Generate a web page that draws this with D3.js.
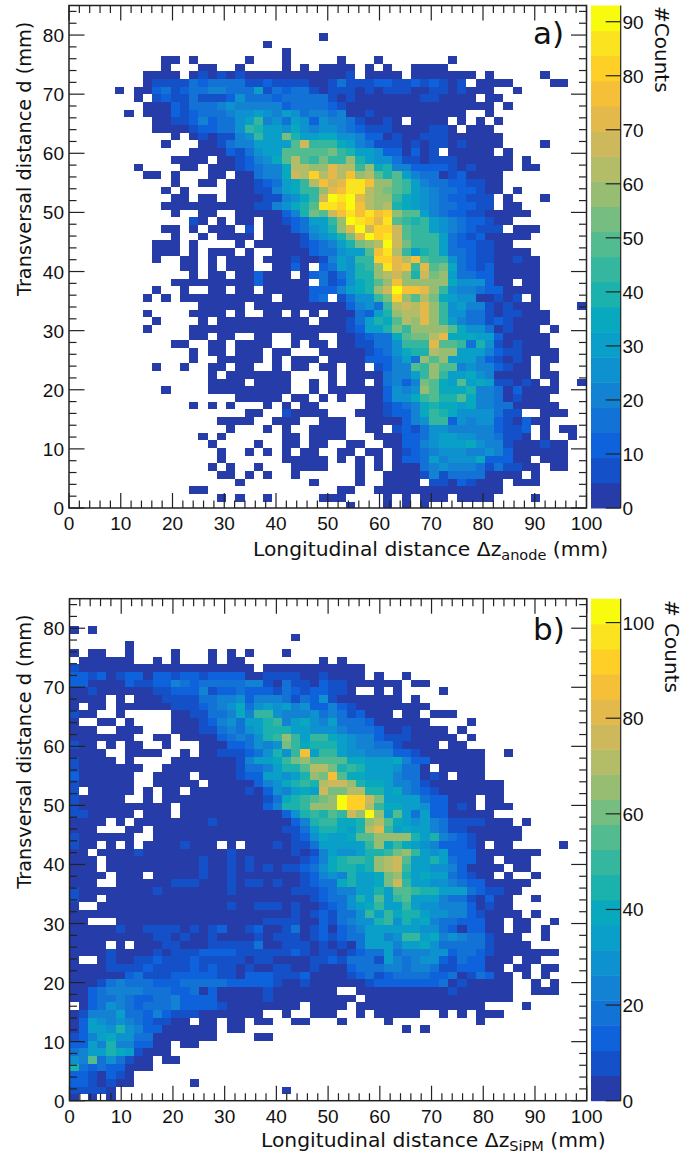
<!DOCTYPE html>
<html>
<head>
<meta charset="utf-8">
<script src="https://cdn.jsdelivr.net/npm/d3@7"></script>
<style>
  body { margin: 0; background: #fff; }
  text { fill: #111; }
</style>
</head>
<body>
<svg id="chart" width="684" height="1155"></svg>
<script>
// rows run top to bottom, firstBin says which x bin the row starts at
var firstBinA = [27,21,23,10,10,8,8,5,7,8,6,9,9,11,10,13,11,7,8,11,10,11,10,11,13,10,11,9,9,9,12,13,11,9,8,14,8,9,8,13,11,13,13,9,15,15,10,18,13,19,16,17,14,15,16,16,15,16,18,13,16,30];
var countsA = [
[3],
[3],
[3],
[3,3,0,3,0,0,0,0,0,3,0,0,0,3,0,0,0,0,0,3,0,0,0,3,0,0,0,0,0,0,0,3],
[3,0,0,0,3,3,0,0,3,0,0,0,0,3,0,3,0,3,3,3,3,0,3,0,3,0,0,3,3,3,3],
[3,3,3,3,0,3,7,3,7,3,7,3,3,3,3,3,3,3,3,3,3,3,7,0,3,3,3,3,0,3,3,3,3,3,3,3,0,3,0,0,0,0,0,3],
[3,9,9,9,9,16,12,15,16,16,15,9,9,12,8,8,8,8,3,3,8,16,8,8,8,10,12,8,8,12,8,12,8,3,8,0,3,3,3,3,0,0,0,0,3,3],
[3,0,3,3,13,17,5,11,16,18,19,19,18,14,16,28,7,17,11,16,15,8,3,7,7,7,3,7,3,7,7,7,3,3,7,7,3,7,3,3,3,0,0,3],
[3,0,7,12,7,7,14,9,6,9,13,26,14,18,18,10,16,17,16,17,14,8,3,7,3,3,3,3,3,3,3,7,7,3,3,3,3,0,3,3],
[3,3,3,12,8,14,15,14,19,27,23,19,22,22,19,13,17,18,14,16,12,9,3,3,3,3,3,3,3,3,3,3,3,3,3,3,3,3,0,3],
[3,0,3,3,3,10,7,12,18,15,17,22,26,26,30,24,22,28,24,15,20,22,16,21,3,3,8,3,3,3,3,3,3,3,3,3,3,0,0,3],
[3,3,8,8,10,21,13,16,17,25,30,44,19,26,17,30,26,12,26,21,20,15,7,3,3,8,3,0,3,3,3,3,0,3,0,3,0,3],
[3,3,3,3,9,12,13,14,18,26,44,40,30,30,25,34,26,22,26,24,20,14,10,8,8,8,3,3,3,3,9,9,3,0,3,3,3],
[3,0,3,8,3,8,8,21,26,44,30,30,55,40,31,30,33,33,27,26,21,11,10,3,8,3,3,9,9,7,3,3,3,3,3,3],
[3,0,0,0,3,3,8,16,19,20,32,30,30,30,49,66,44,42,44,33,32,21,16,8,8,8,3,5,3,8,8,3,8,3,3,3,3,0,0,0,0,3],
[3,3,3,3,10,8,16,26,30,30,50,50,47,47,50,53,44,40,32,30,26,12,12,3,12,3,8,0,3,3,3,3,3,0,3],
[3,3,3,3,0,3,3,8,12,19,26,35,50,62,50,44,54,44,44,60,38,28,26,24,16,8,8,3,8,8,8,3,3,3,3,3,3,0,3],
[3,0,0,0,0,3,3,0,3,3,3,8,10,16,21,21,34,63,63,60,58,72,64,64,44,58,35,40,21,21,12,12,12,12,8,3,8,3,3,3,3,0,3,3],
[3,3,0,3,0,0,0,3,3,0,3,3,16,20,21,34,68,63,80,64,72,63,77,58,63,49,40,49,30,21,16,16,3,8,12,3,3,3,3],
[3,0,0,3,3,0,3,3,3,8,12,16,32,36,44,63,77,68,72,85,85,75,58,58,50,44,28,21,16,16,12,12,8,8,3,3],
[3,0,3,0,0,0,0,3,3,3,8,8,21,30,33,44,44,58,70,77,87,85,63,58,54,50,44,28,26,20,16,15,12,12,8,3,3,0,3],
[3,3,0,3,3,0,3,3,3,3,8,8,21,26,35,44,66,90,85,93,72,63,60,60,44,35,32,26,22,16,12,10,8,8,8,0,3,0,0,0,3],
[3,3,3,3,3,3,3,3,3,3,8,8,21,26,35,40,50,88,85,80,92,75,62,60,62,38,34,32,24,22,16,14,12,10,8,8,0,3,3],
[3,0,0,3,3,0,0,3,3,3,3,3,12,21,40,54,50,66,76,84,77,88,78,82,58,50,48,28,20,14,12,10,8,8,3,3,3,3,3],
[8,3,0,3,0,3,3,0,3,3,8,12,16,28,30,44,58,90,84,83,74,86,50,44,40,44,30,24,21,16,12,12,8,3,3],
[3,3,0,3,0,3,3,3,0,8,0,3,3,3,12,16,26,32,40,56,70,90,66,82,82,66,50,42,44,30,26,20,16,12,8,8,8,0,3,3,3],
[3,0,0,3,0,3,3,3,3,0,3,3,3,3,9,21,26,30,38,54,72,90,80,85,68,50,44,44,44,28,14,10,9,10,3,3,3,3,3],
[3,3,3,0,3,0,0,0,0,3,0,3,3,3,3,3,8,12,16,20,28,38,54,60,64,90,66,54,44,46,42,30,18,12,10,8,5,3,3],
[3,3,3,0,3,0,3,3,3,0,3,0,0,3,3,3,3,10,16,18,24,32,28,50,75,84,62,46,32,40,42,32,18,16,12,8,5,3,3,3,3],
[3,0,0,3,3,0,3,0,3,3,3,0,3,3,3,8,3,3,8,21,30,26,44,44,80,80,72,63,76,50,44,44,26,16,10,8,5,3,3,8,3,3],
[3,3,0,3,0,3,3,3,0,0,3,3,12,3,0,12,16,28,26,40,44,58,84,74,78,42,72,48,54,34,16,12,9,10,3,3,3,3,3],
[3,0,3,3,0,3,3,12,3,3,3,0,3,12,14,5,16,26,38,38,58,63,68,58,40,68,52,58,28,16,14,10,10,3,3,3,3,3],
[3,3,3,3,3,3,3,3,3,12,3,3,3,3,3,0,16,7,12,26,35,38,50,58,78,60,58,60,60,58,34,26,26,24,12,3,3,0,3,3],
[3,0,0,3,0,0,3,3,0,3,3,0,3,3,3,3,3,10,12,12,20,30,34,40,56,68,92,76,76,70,58,44,26,22,22,16,12,12,3,3,3,3],
[3,0,3,0,3,3,3,3,3,3,3,3,3,3,0,3,3,3,12,14,0,8,16,24,26,44,54,82,58,50,62,54,34,28,26,24,3,3,8,3,8,0,3],
[3,3,3,3,3,0,3,3,3,3,3,3,3,3,3,3,12,21,26,14,44,63,66,63,70,58,44,26,30,20,20,8,3,8,3,3,3,0,0,0,0,3],
[3,0,0,0,0,3,3,3,3,0,3,0,0,3,3,0,3,0,3,0,3,3,3,16,12,30,40,60,63,62,70,60,44,24,24,14,14,8,3,8,8,3,3,3],
[3,0,0,0,0,3,0,3,3,3,3,3,3,3,3,3,3,0,3,3,3,8,14,30,38,35,50,63,60,70,58,44,30,22,18,14,8,10,8,3,3,3,3],
[3,0,0,0,0,3,3,3,3,3,3,3,3,3,3,3,3,3,3,3,3,3,8,12,30,32,40,54,44,58,58,58,58,50,35,26,26,16,3,8,3,3,3,0,3],
[3,3,0,3,3,0,0,3,3,0,0,3,3,3,0,0,3,3,8,12,14,14,34,50,54,54,63,74,36,34,34,30,28,12,3,3,3,3,3],
[3,3,0,0,3,3,0,3,3,3,3,0,0,3,0,3,3,0,3,3,8,8,16,18,26,44,42,44,72,50,50,44,16,38,26,8,3,8,3,3,3],
[3,0,3,3,0,3,3,3,0,3,3,0,0,0,3,3,3,3,3,8,12,16,26,34,40,40,64,58,58,30,28,30,20,12,8,8,3,3,3,3],
[3,0,0,3,3,3,3,3,0,3,0,3,3,3,0,3,3,3,3,12,10,12,21,30,16,58,50,58,30,30,28,20,12,8,3,8,3,0,3,3],
[3,0,0,3,0,0,3,3,0,3,3,0,0,3,0,3,3,0,3,3,0,3,3,0,8,12,21,21,50,42,58,50,50,22,24,22,22,12,8,3,3,0,3],
[3,0,3,3,3,3,3,3,3,0,0,0,0,3,0,3,3,3,3,16,21,21,30,44,58,44,28,28,34,26,21,3,3,3,3,0,3,3],
[3,3,3,3,0,3,3,3,3,0,0,3,0,3,0,3,3,0,3,16,21,12,21,54,50,35,30,50,30,35,30,8,8,3,8,3,0,3,0,0,3],
[3,0,0,0,0,3,3,3,3,3,3,3,3,3,0,0,3,0,3,3,3,3,3,3,12,24,21,26,58,50,36,36,36,40,22,22,16,3,12,3,3,3,3],
[3,3,3,3,3,0,3,3,0,3,0,3,0,0,3,3,10,26,26,36,44,50,40,40,50,36,21,21,16,3,8,3,3,3],
[3,0,3,0,3,0,0,0,3,0,3,0,3,3,0,0,0,0,0,3,3,8,12,18,21,36,38,34,36,30,36,21,22,16,16,3,3,3,3,3],
[3,3,0,0,8,3,3,3,3,0,0,0,3,3,3,8,12,12,21,36,42,40,34,26,26,24,26,16,8,8,0,0,3,3,3],
[3,3,3,3,0,0,3,3,3,0,0,3,3,3,0,0,3,3,3,3,12,21,26,44,44,12,24,22,26,24,10,8,3,10,3,3],
[3,0,0,0,3,0,3,0,0,3,3,3,3,0,0,3,3,0,8,12,8,16,26,24,20,22,22,20,21,12,8,8,12,0,3,0,3,3],
[3,0,3,0,0,0,0,0,0,3,3,0,3,3,3,3,0,0,0,3,3,3,12,12,16,26,28,30,24,24,22,22,16,8,8,3,0,3,0,0,3],
[3,0,0,0,0,3,0,0,3,3,0,3,3,0,0,3,3,0,0,3,3,12,12,21,26,30,30,30,34,24,21,20,8,3,3,3,8,3,3],
[3,0,0,3,0,3,0,3,0,3,3,0,0,3,3,0,3,3,0,3,8,12,16,21,24,26,24,22,20,24,20,10,3,3,3,3,3,3],
[3,0,0,0,0,0,0,3,3,3,3,3,0,3,0,3,0,3,0,3,12,12,16,32,21,26,26,26,33,12,12,10,3,3,0,3,3,3],
[3,0,3,0,0,3,0,0,0,3,3,3,3,0,0,0,3,0,3,0,3,3,3,16,21,24,20,20,20,16,8,16,8,8,3,3,0,3,3],
[3,3,0,3,0,3,0,0,3,0,0,0,0,0,0,3,0,0,3,3,3,3,8,21,8,16,16,14,14,3,3,3,3,0,3],
[3,0,0,0,0,0,0,0,3,0,0,0,0,3,0,0,3,3,3,3,0,8,8,3,12,8,3,3,3,0,3,3,3],
[3,3,0,0,0,0,0,0,0,0,0,0,0,0,0,0,3,3,0,0,3,3,3,3,3,3,3,3,3,3,3,3,3,3],
[3,0,3,0,0,3,0,0,0,0,0,3,3,3,0,0,0,0,3,0,3,0,3,3,3,0,3,3,3,3,0,0,0,0,3],
[3,0,0,0,3,0,3,0,3]
];

var firstBinB = [0,24,6].concat(d3.range(59).map(function() { return 0; }));
var countsB = [
[3,0,3],
[3],
[3],
[3,0,3,3,0,0,3,0,0,0,0,3,0,0,0,3,0,3,0,3,0,0,0,3],
[0,3,3,3,3,3,3,0,0,3,0,3,0,0,0,3,0,3,3,0,0,0,0,0,0,0,0,3,0,3],
[8,3,3,3,3,3,3,3,3,3,3,3,3,3,3,3,3,3,3,3,0,3,3,3,3,3,3,3,3,3,3,3],
[13,13,8,13,3,8,13,13,3,13,13,8,13,13,9,14,13,13,13,3,3,8,8,8,8,3,3,8,3,3,3,3,0,3,0,0,3],
[14,13,3,3,3,3,13,8,8,13,14,21,18,13,20,20,20,18,18,21,21,8,3,18,8,8,3,13,8,8,3,3,3,3,3,3,0,3,3],
[3,3,8,3,3,3,3,3,3,8,10,13,13,13,21,10,14,14,17,13,13,13,10,19,11,8,11,15,8,8,3,0,0,3,0,3,0,0,0,0,3],
[3,3,3,3,0,3,0,3,3,3,8,8,8,8,18,18,25,21,31,13,26,21,21,18,8,18,13,29,8,3,3,3,3,3,3,3,0,3],
[3,0,3,3,0,3,3,3,3,3,3,8,8,8,13,18,26,29,38,18,28,33,28,36,22,28,13,13,21,13,9,3,3,3,3,3,3,3,3],
[8,3,3,0,0,3,0,0,0,0,0,3,3,8,8,18,18,24,40,24,50,50,29,24,24,24,29,18,24,18,8,13,3,3,3,0,3,3,0,3,3,3],
[3,0,0,3,3,0,3,0,0,0,0,3,3,3,8,15,24,29,17,34,36,45,50,24,33,38,28,26,34,18,20,18,13,3,3,3,3,3,3,0,0,0,0,3],
[3,3,3,0,0,3,3,3,0,0,0,3,3,3,8,8,19,24,18,29,33,46,46,46,33,33,28,28,29,26,16,18,17,14,3,3,8,3,3,3,3,0,3],
[3,3,3,3,3,3,3,0,0,3,3,0,3,3,3,3,13,16,21,17,30,45,48,63,50,34,50,50,40,36,28,24,24,14,8,8,8,3,3,3,3,3,0,3],
[8,3,3,0,3,0,3,3,0,0,3,0,0,0,3,3,3,14,13,18,28,26,29,58,48,40,42,45,45,36,28,24,24,18,16,10,3,3,3,3,0,3,3],
[3,3,3,3,0,0,3,3,3,3,0,0,3,0,3,3,8,8,8,13,18,30,44,30,52,85,32,48,50,34,28,28,26,24,22,13,13,8,3,3,3,3,3,3,3,0,0,3],
[8,3,3,3,3,0,3,0,0,0,0,3,3,3,3,3,3,3,8,24,33,36,38,50,58,66,56,54,56,55,40,40,34,34,34,38,21,13,13,3,3,3,3,3,3],
[8,3,3,3,3,3,3,3,0,0,3,3,3,3,3,3,3,3,8,18,19,24,33,45,45,54,70,70,60,45,52,44,36,33,33,28,19,18,3,0,3,3,3,3,3],
[13,3,3,3,3,3,3,0,0,3,3,3,3,0,3,3,3,3,8,13,13,32,32,28,36,45,65,62,86,55,38,38,36,33,33,24,18,18,3,8,3,0,3,3,3],
[8,3,3,3,3,3,3,0,0,3,3,3,3,3,0,3,3,3,3,3,13,23,29,38,43,50,43,70,74,76,64,45,38,38,36,24,24,18,8,3,3,3,3,3,3,3,3],
[8,0,3,3,3,3,3,0,3,0,3,3,0,3,3,3,3,3,3,8,3,13,28,24,32,38,33,74,60,62,72,70,44,44,34,40,24,18,13,8,3,3,3,3,3,3,3],
[8,3,3,3,3,3,0,0,3,0,3,3,3,3,3,3,3,3,3,3,3,8,18,38,42,50,55,62,68,102,90,90,74,60,36,36,34,32,18,13,13,3,3,3,0,3,3],
[10,3,3,3,3,3,3,3,3,3,3,0,3,3,3,3,3,3,3,3,3,13,24,44,44,50,66,64,66,102,92,90,72,50,40,38,34,34,28,13,13,3,8,3,0,3,3,3],
[10,10,3,3,3,3,3,0,3,3,3,0,3,3,3,3,3,3,3,3,3,3,3,12,28,44,52,44,55,50,74,64,102,64,34,55,34,18,34,15,15,3,3,3,3,3],
[3,3,3,3,0,3,0,3,3,3,3,3,3,3,3,8,3,3,3,3,3,3,3,3,13,24,44,52,52,40,38,44,64,72,55,38,34,28,32,22,18,8,8,8,8,3,3,3,0,3],
[3,3,3,0,0,0,3,3,0,3,3,3,3,3,3,3,3,3,3,3,3,3,3,8,8,18,32,47,44,38,32,44,70,82,50,34,40,36,34,22,20,8,8,3,3,3,3,3,3],
[8,3,3,3,3,3,3,0,0,3,3,3,3,3,3,3,3,3,3,3,3,3,3,3,10,13,29,40,36,36,40,55,55,66,66,66,66,45,34,45,24,18,13,8,3,3,3,3,3],
[8,3,3,0,3,0,3,0,3,3,3,3,8,3,3,3,0,3,0,3,3,3,8,3,8,8,18,36,33,33,33,33,50,63,38,50,38,33,28,21,13,13,13,8,3,0,3,3,0,0,0,0,0,3],
[3,3,0,3,3,3,3,8,3,3,3,3,3,3,3,3,3,8,3,3,3,3,3,3,8,3,10,26,32,30,30,32,44,44,50,60,63,50,34,30,36,13,13,13,3,3,3,3,3,3,3],
[3,3,3,0,3,3,3,3,3,3,3,3,3,3,8,3,3,8,3,8,3,3,3,3,3,8,13,26,40,45,50,50,45,66,71,76,55,34,34,44,34,18,13,13,3,3,0,3,3,3],
[3,3,3,0,3,3,3,3,3,3,3,3,3,3,8,3,3,8,3,8,3,8,3,8,8,13,18,29,38,44,46,40,46,63,70,78,50,34,34,30,30,26,13,3,3,3,3,0,3,3],
[3,3,3,3,0,3,3,3,0,3,3,3,3,3,8,3,3,8,3,3,3,3,3,3,3,8,13,21,30,26,42,32,32,38,60,64,44,34,38,32,32,18,13,8,3,3,0,3,0,0,3],
[3,3,3,0,0,3,3,3,3,3,3,8,8,8,3,3,3,8,3,8,8,3,8,3,3,8,13,18,20,38,44,36,36,38,60,76,50,36,34,28,28,24,18,13,13,3,3,3,3,3],
[8,3,3,3,3,3,3,3,3,8,3,3,3,3,3,3,3,8,3,3,3,3,3,3,8,8,8,13,18,22,24,34,34,44,34,55,55,50,46,44,36,32,32,18,13,8,8,3,3],
[8,3,3,0,3,3,3,3,3,3,3,3,3,3,3,3,3,3,3,3,3,3,3,3,3,3,8,13,18,20,29,44,34,55,34,48,55,34,34,34,24,18,18,8,3,13,3,3,0,0,3],
[3,0,0,3,3,3,3,3,3,3,3,3,3,3,3,3,3,8,3,3,10,10,10,3,8,3,3,8,13,18,29,34,38,48,34,34,48,34,29,29,22,22,22,13,3,8,3,3],
[3,3,3,3,3,3,3,3,3,3,3,3,3,3,3,3,3,3,3,3,3,3,3,3,8,3,8,13,8,18,18,29,50,34,50,38,44,44,34,29,29,24,24,13,8,3,3,3,3,0,3],
[3,3,0,0,0,3,3,3,3,3,3,3,3,3,3,3,3,3,3,3,3,8,8,8,8,3,3,13,8,18,24,29,29,45,50,29,45,34,38,24,20,20,13,13,13,3,3,0,3,3,0,0,3],
[3,3,3,3,3,8,3,3,8,10,10,10,3,8,3,10,13,3,3,8,14,3,3,8,16,3,8,13,3,13,18,24,34,34,34,34,34,34,29,29,18,13,3,13,13,3,3,0,3,3,0,3],
[3,3,3,3,3,3,3,3,3,8,8,3,8,3,3,8,3,3,3,3,8,3,8,8,8,3,8,13,8,13,18,18,34,34,24,29,50,50,34,39,24,29,24,18,18,8,3,3,3,0,0,3],
[3,3,3,3,0,3,0,3,3,3,8,8,3,3,3,8,8,8,8,8,20,3,3,8,8,8,3,8,3,8,3,18,34,34,34,24,34,34,39,29,18,18,18,18,18,8,3,3,3,3],
[3,3,3,3,8,3,3,3,3,8,3,8,8,8,13,13,13,13,8,8,8,8,8,8,13,8,3,8,8,3,8,13,18,18,34,18,24,24,24,29,29,13,18,18,13,8,3,3,3,3,3,3,3],
[3,0,0,3,8,3,3,8,8,13,8,10,8,13,8,8,10,8,8,3,8,8,3,3,3,3,8,10,13,8,18,18,18,8,34,24,18,24,29,29,13,8,18,13,13,3,3,3,0,3,3],
[3,3,3,3,8,8,8,8,13,8,8,8,8,15,8,13,8,8,3,8,3,3,8,8,3,3,8,3,3,3,13,18,18,18,24,24,18,24,24,18,8,8,13,13,13,3,3,0,3,3,0,3,3],
[3,3,3,3,3,3,13,18,8,8,8,13,13,13,13,13,8,8,3,13,13,13,8,8,8,13,3,3,3,3,8,13,18,8,13,18,18,18,18,13,13,18,3,8,18,13,3,3,0,3,0,3],
[3,3,3,8,18,24,18,18,18,13,13,13,18,18,18,18,18,13,13,13,13,13,8,3,3,8,3,3,3,3,3,3,8,13,13,13,13,13,13,13,18,3,8,3,3,3,3,3,0,0,3,0,3],
[3,3,13,18,21,26,26,26,18,16,16,13,13,16,3,13,3,3,3,3,3,8,3,3,3,3,3,3,3,0,0,3,3,3,3,3,3,3,3,3,3,8,3,3,3,3,3,3,0,0,3,3,3],
[3,3,13,18,20,21,18,13,13,16,16,25,13,13,13,13,3,3,3,3,3,8,3,3,3,3,3,3,3,3,3,0,3,3,3,3,3,3,3,3,3,3,3,3,3,3,3,3],
[0,3,13,18,29,24,18,13,18,18,18,26,13,13,13,13,8,3,3,3,3,3,3,3,3,0,3,3,3,3,0,3,3,3,3,3,3,3,3,3,3,3,3,3,3,0,0,0,0,3],
[3,8,21,26,21,36,18,18,13,21,13,8,8,8,3,3,3,3,3,3,3,0,0,3,0,0,3,3,3,0,0,3,0,3,3,3,3,3,0,0,3,0,3,0,3,3,3],
[3,13,34,29,24,29,21,18,13,8,8,3,3,0,3,3,0,3,3,0,3,3,0,0,3,3,0,0,0,3,0,0,0,0,3,0,0,0,0,0,0,0,0,0,3],
[3,13,34,34,29,45,28,21,13,13,3,3,3,3,3,3,0,3,3,0,0,0,0,0,0,0,0,0,0,0,0,0,0,0,0,0,3,0,3],
[8,13,26,34,40,29,29,18,18,3,3,3,3,3,3,3,0,0,0,0,3,3],
[13,13,34,21,45,26,21,13,13,3,3,0,3,3],
[18,21,34,34,45,38,36,8,3,3,3],
[28,21,55,18,28,18,8,3,3,0,3,3],
[44,18,13,18,13,13,3,3,3],
[13,13,8,3,13,8,3],
[13,13,8,3,8,3,3,0,0,0,0,0,0,3],
[8,8,8,8,3,0,0,0,0,0,0,0,0,0,0,0,0,0,0,0,0,0,0,3],
[3,0,3,0,3]
];

var maxA = 93, maxB = 105;
var xMajor = [0,10,20,30,40,50,60,70,80,90,100];
var yMajor = [0,10,20,30,40,50,60,70,80];
var barTicksA = [0,10,20,30,40,50,60,70,80,90];
var barTicksB = [0,20,40,60,80,100];

var palette = ["#263ca8","#1450c8","#0e62dc","#1272d6","#1382d2","#0e91cf","#0a9fc8","#08a9bf","#1bb1ad","#34b79e",
               "#52bb8f","#75bd80","#97bd72","#b3bc66","#cdb85c","#e3b94b","#f5bf38","#fdcf27","#fbe31f","#f9fb0e"];

var svg = d3.select("#chart");
var labelFont = "'DejaVu Sans'";
var tickFont = "'Liberation Sans'";
var axisColor = "#222";

var drawPanel = function(p) {
  var x = d3.scaleLinear().domain([0, 100]).range([p.left, p.right]);
  var y = d3.scaleLinear().domain([0, 85]).range([p.bottom, p.top]);
  var color = d3.scaleQuantize().domain([0, p.max]).range(palette);
  var binW = 100 / 56, binH = 1.3, binY0 = -0.23;
  var nRows = p.counts.length;

  svg.append("clipPath").attr("id", p.id + "-clip").append("rect")
    .attr("x", p.left).attr("y", p.top)
    .attr("width", p.right - p.left).attr("height", p.bottom - p.top);

  var cells = [];
  p.counts.forEach(function(row, i) {
    row.forEach(function(v, n) {
      if (v > 0) cells.push({ k: p.first[i] + n, j: nRows - 1 - i, v: v });
    });
  });

  svg.append("g").attr("clip-path", "url(#" + p.id + "-clip)")
    .selectAll("rect").data(cells).enter().append("rect")
    .attr("x", function(d) { return x(d.k * binW); })
    .attr("width", function(d) { return x((d.k + 1) * binW) - x(d.k * binW); })
    .attr("y", function(d) { return y(binY0 + (d.j + 1) * binH); })
    .attr("height", function(d) { return y(binY0 + d.j * binH) - y(binY0 + (d.j + 1) * binH); })
    .attr("shape-rendering", "crispEdges")
    .attr("fill", function(d) { return color(d.v); });

  // ticks on all four sides
  var ticks = svg.append("g").attr("stroke", axisColor).attr("stroke-width", 1.2);
  d3.range(0, 101, 2).forEach(function(v) {
    var len = v % 10 == 0 ? 15 : 7.5;
    ticks.append("line").attr("x1", x(v)).attr("x2", x(v)).attr("y1", p.bottom).attr("y2", p.bottom - len);
    ticks.append("line").attr("x1", x(v)).attr("x2", x(v)).attr("y1", p.top).attr("y2", p.top + len);
  });
  d3.range(0, 85, 2).forEach(function(v) {
    var len = v % 10 == 0 ? 15.5 : 7.5;
    ticks.append("line").attr("x1", p.left).attr("x2", p.left + len).attr("y1", y(v)).attr("y2", y(v));
    ticks.append("line").attr("x1", p.right).attr("x2", p.right - len).attr("y1", y(v)).attr("y2", y(v));
  });
  svg.append("rect").attr("x", p.left).attr("y", p.top)
    .attr("width", p.right - p.left).attr("height", p.bottom - p.top)
    .attr("fill", "none").attr("stroke", axisColor).attr("stroke-width", 1.5);

  // tick labels
  svg.append("g").selectAll("text").data(xMajor).enter().append("text")
    .attr("x", function(d) { return x(d); }).attr("y", p.bottom + 22)
    .attr("text-anchor", "middle").style("font", "19px " + tickFont)
    .text(function(d) { return d; });
  svg.append("g").selectAll("text").data(yMajor).enter().append("text")
    .attr("x", p.left - 5).attr("y", function(d) { return y(d) + 7; })
    .attr("text-anchor", "end").style("font", "19px " + tickFont)
    .text(function(d) { return d; });

  // colour bar
  var barX0 = 591, barX1 = 620.7;
  var barY = d3.scaleLinear().domain([0, p.max]).range([p.bottom, p.top]);
  svg.append("g").selectAll("rect").data(palette).enter().append("rect")
    .attr("x", barX0).attr("width", barX1 - barX0)
    .attr("y", function(d, i) { return barY((i + 1) * p.max / 20); })
    .attr("height", function() { return barY(0) - barY(p.max / 20) + 0.5; })
    .attr("fill", function(d) { return d; });
  svg.append("line").attr("x1", barX1).attr("x2", barX1).attr("y1", p.top).attr("y2", p.bottom)
    .attr("stroke", axisColor).attr("stroke-width", 1.2);
  svg.append("g").selectAll("line").data(p.barTicks).enter().append("line")
    .attr("x1", barX1 - 15).attr("x2", barX1)
    .attr("y1", function(d) { return barY(d); }).attr("y2", function(d) { return barY(d); })
    .attr("stroke", axisColor).attr("stroke-width", 1.2);
  svg.append("g").selectAll("text").data(p.barTicks).enter().append("text")
    .attr("x", 622.5).attr("y", function(d) { return barY(d) + 7; })
    .style("font", "19px " + tickFont)
    .text(function(d) { return d; });

  // titles
  var xt = svg.append("text").attr("x", p.xTitleX).attr("y", p.xTitleY).style("font", "20.3px " + labelFont);
  xt.append("tspan").text("Longitudinal distance \u0394z");
  xt.append("tspan").attr("dy", 4).style("font-size", "14.5px").text(p.sub);
  xt.append("tspan").attr("dy", -4).text(" (mm)");

  svg.append("text")
    .attr("transform", "translate(31," + (p.bottom - 212) + ") rotate(-90)")
    .style("font", "19.3px " + labelFont)
    .text("Transversal distance d (mm)");

  svg.append("text").attr("x", 533).attr("y", p.tagY)
    .style("font", "31px " + labelFont).text(p.tag);

  svg.append("text")
    .attr("transform", "translate(" + p.countX + "," + p.countY + ") rotate(90)")
    .style("font", "20px " + labelFont).text(p.countLabel);
};

drawPanel({ id: "a", left: 69, right: 586.5, top: 5.5, bottom: 508, first: firstBinA, counts: countsA, max: maxA,
  barTicks: barTicksA, sub: "anode", tag: "a)", tagY: 44, xTitleX: 253, xTitleY: 556, countLabel: "#Counts", countX: 655, countY: 6 });
drawPanel({ id: "b", left: 69.5, right: 586.7, top: 598.7, bottom: 1100.7, first: firstBinB, counts: countsB, max: maxB,
  barTicks: barTicksB, sub: "SiPM", tag: "b)", tagY: 640, xTitleX: 261, xTitleY: 1147, countLabel: "# Counts", countX: 665, countY: 600 });
</script>
</body>
</html>
